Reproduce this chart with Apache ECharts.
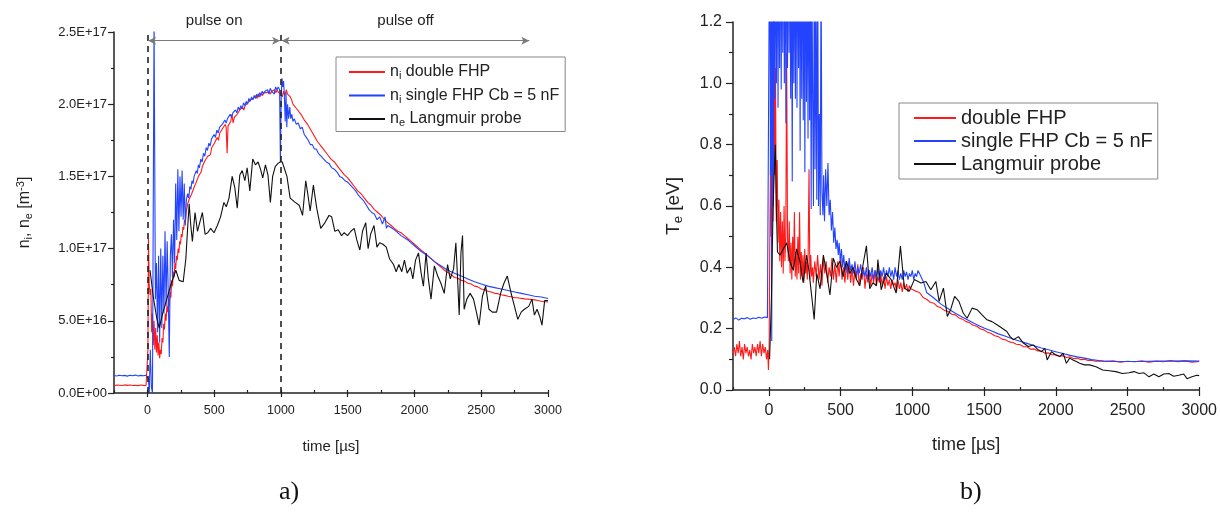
<!DOCTYPE html>
<html>
<head>
<meta charset="utf-8">
<script src="https://cdn.jsdelivr.net/npm/echarts@6/dist/echarts.min.js"></script>
<style>
html,body{margin:0;padding:0;background:#fff;}
#c{width:1220px;height:518px;}
</style>
</head>
<body>
<div id="c"></div>
<script>
// ---------- tick values ----------
const timeMajorTicks = [0, 500, 1000, 1500, 2000, 2500, 3000];
const pulseMarks = [0, 1000];          // µs, dashed lines
const pulseOnSpan = [6, 994];          // µs
const pulseOffSpan = [1006, 2860];     // µs
const arrowLevel = 2.44;               // 1e17 m^-3

// ---------- panel a) densities, units of 1e17 m^-3 : [time µs, value] ----------
const niDoubleFHP = [[-250,0.05],[-240,0.046],[-230,0.055],[-220,0.047],[-210,0.054],[-200,0.045],[-190,0.052],[-180,0.048],[-170,0.056],[-160,0.046],[-150,0.053],[-140,0.047],[-130,0.055],[-120,0.044],[-110,0.052],[-100,0.047],[-90,0.054],[-80,0.045],[-70,0.051],[-60,0.046],[-50,0.055],[-40,0.047],[-30,0.053],[-20,0.045],[-10,0.052],[0,0.048],[4,0.3],[8,1.07],[14,0.75],[20,0.68],[26,0.72],[32,0.42],[38,0.55],[44,0.33],[50,0.5],[56,0.3],[62,0.45],[68,0.28],[74,0.4],[80,0.26],[86,0.35],[92,0.24],[98,0.3],[104,0.27],[110,0.38],[116,0.35],[122,0.48],[128,0.44],[134,0.55],[140,0.5],[146,0.6],[152,0.56],[158,0.65],[164,0.6],[170,0.7],[176,0.66],[182,0.78],[188,0.74],[194,0.84],[200,0.8],[206,0.9],[212,0.86],[218,0.95],[224,0.92],[230,1.0],[236,0.97],[242,1.05],[248,1.03],[254,1.1],[260,1.08],[266,1.15],[272,1.13],[278,1.2],[284,1.18],[292,1.26],[302,1.31],[312,1.34],[322,1.33],[332,1.38],[342,1.39],[352,1.43],[362,1.45],[372,1.46],[382,1.5],[392,1.51],[402,1.53],[412,1.57],[422,1.57],[432,1.61],[442,1.6],[452,1.64],[462,1.65],[472,1.65],[482,1.7],[492,1.69],[502,1.73],[512,1.72],[522,1.77],[532,1.75],[542,1.8],[552,1.79],[562,1.83],[572,1.83],[582,1.86],[590,1.84],[597,1.66],[604,1.85],[614,1.86],[624,1.88],[633,1.93],[642,1.87],[652,1.91],[662,1.91],[672,1.93],[682,1.93],[692,1.96],[702,1.95],[712,1.98],[722,1.96],[732,1.99],[742,1.99],[752,2.01],[762,2.0],[772,2.03],[782,2.02],[792,2.04],[802,2.03],[812,2.06],[822,2.04],[832,2.07],[842,2.05],[852,2.08],[862,2.06],[872,2.08],[882,2.07],[892,2.08],[902,2.07],[912,2.09],[922,2.07],[932,2.09],[942,2.08],[952,2.1],[962,2.08],[972,2.1],[982,2.08],[992,2.09],[1000,2.07],[1010,2.05],[1020,2.09],[1030,2.06],[1040,2.1],[1050,2.07],[1060,2.08],[1070,2.05],[1080,2.03],[1090,2.0],[1100,1.99],[1125,1.96],[1150,1.93],[1175,1.89],[1200,1.86],[1225,1.82],[1250,1.78],[1275,1.74],[1300,1.71],[1325,1.68],[1350,1.65],[1375,1.62],[1400,1.6],[1425,1.57],[1450,1.54],[1475,1.51],[1500,1.49],[1525,1.46],[1550,1.43],[1575,1.4],[1600,1.38],[1625,1.35],[1650,1.32],[1675,1.3],[1700,1.27],[1725,1.25],[1750,1.23],[1775,1.2],[1800,1.18],[1825,1.16],[1850,1.14],[1875,1.12],[1900,1.11],[1925,1.09],[1950,1.07],[1975,1.05],[2000,1.03],[2025,1.01],[2050,0.99],[2075,0.97],[2100,0.95],[2125,0.93],[2150,0.91],[2175,0.89],[2200,0.87],[2225,0.85],[2250,0.835],[2275,0.82],[2300,0.8],[2325,0.795],[2350,0.78],[2375,0.775],[2400,0.76],[2425,0.755],[2450,0.74],[2475,0.735],[2500,0.72],[2525,0.715],[2550,0.705],[2575,0.7],[2600,0.69],[2625,0.688],[2650,0.68],[2675,0.676],[2700,0.67],[2725,0.667],[2750,0.66],[2775,0.66],[2800,0.655],[2825,0.652],[2850,0.65],[2875,0.648],[2900,0.645],[2925,0.64],[2950,0.635],[2975,0.632],[3000,0.63]];

const niSingleFHP = [[-250,0.121],[-230,0.118],[-210,0.123],[-190,0.119],[-170,0.122],[-150,0.117],[-130,0.123],[-110,0.12],[-90,0.124],[-70,0.118],[-50,0.122],[-30,0.119],[-10,0.123],[0,0.12],[8,0.1],[14,0.0],[22,0.3],[30,0.04],[38,0.0],[46,0.0],[50,2.6],[56,2.6],[60,0.65],[68,0.9],[76,0.42],[84,0.95],[92,0.35],[100,1.0],[108,0.45],[116,0.95],[124,0.55],[132,1.12],[140,0.6],[148,1.05],[156,0.7],[164,0.25],[172,0.95],[180,1.1],[188,0.8],[196,1.2],[204,0.9],[212,1.45],[220,1.06],[228,1.55],[236,1.12],[244,1.5],[252,1.22],[260,1.54],[268,1.2],[276,1.45],[284,1.16],[292,1.34],[302,1.38],[310,1.35],[318,1.43],[326,1.41],[334,1.47],[342,1.45],[350,1.5],[358,1.49],[366,1.54],[374,1.52],[382,1.58],[390,1.56],[400,1.62],[410,1.6],[420,1.66],[430,1.64],[440,1.7],[450,1.68],[460,1.73],[470,1.71],[480,1.76],[490,1.75],[500,1.79],[510,1.77],[520,1.82],[530,1.8],[540,1.84],[550,1.83],[560,1.86],[570,1.85],[580,1.89],[590,1.87],[600,1.9],[610,1.89],[620,1.93],[630,1.91],[640,1.94],[650,1.93],[660,1.96],[670,1.94],[680,1.98],[690,1.96],[700,1.99],[710,1.97],[720,2.01],[730,1.99],[740,2.02],[750,2.0],[760,2.04],[770,2.02],[780,2.05],[790,2.03],[800,2.06],[810,2.04],[820,2.07],[830,2.05],[840,2.08],[850,2.06],[860,2.09],[870,2.07],[880,2.09],[890,2.08],[900,2.1],[910,2.07],[920,2.11],[930,2.09],[940,2.1],[950,2.07],[960,2.12],[970,2.1],[980,2.12],[990,2.1],[996,1.6],[1002,2.05],[1008,2.18],[1014,2.12],[1020,2.16],[1026,2.05],[1032,1.88],[1038,2.08],[1044,1.84],[1050,2.0],[1058,1.9],[1066,1.98],[1074,1.9],[1082,1.93],[1090,1.88],[1100,1.9],[1115,1.86],[1130,1.87],[1145,1.83],[1160,1.84],[1175,1.79],[1190,1.77],[1205,1.75],[1220,1.72],[1235,1.72],[1250,1.69],[1265,1.69],[1280,1.66],[1300,1.64],[1320,1.62],[1340,1.6],[1360,1.59],[1380,1.56],[1400,1.55],[1420,1.53],[1440,1.5],[1460,1.49],[1480,1.47],[1500,1.46],[1520,1.44],[1540,1.42],[1560,1.4],[1580,1.37],[1600,1.35],[1620,1.33],[1640,1.3],[1660,1.27],[1680,1.25],[1700,1.24],[1720,1.2],[1740,1.22],[1760,1.17],[1780,1.22],[1790,1.14],[1800,1.16],[1850,1.13],[1900,1.09],[1950,1.06],[2000,1.02],[2050,0.98],[2100,0.95],[2150,0.91],[2200,0.88],[2250,0.85],[2300,0.83],[2350,0.81],[2400,0.79],[2450,0.77],[2500,0.755],[2550,0.74],[2600,0.73],[2650,0.72],[2700,0.71],[2750,0.7],[2800,0.69],[2850,0.68],[2900,0.67],[2950,0.665],[3000,0.655]];

const neLangmuir = [[20,0.85],[45,0.66],[70,0.52],[89,0.45],[114,0.55],[139,0.63],[176,0.75],[213,0.85],[238,0.78],[268,0.77],[288,0.93],[300,1.12],[313,1.31],[325,1.16],[337,1.05],[357,1.25],[375,1.12],[392,1.18],[412,1.25],[432,1.1],[452,1.11],[474,1.14],[499,1.11],[524,1.16],[548,1.22],[573,1.32],[591,1.29],[611,1.35],[635,1.5],[655,1.42],[673,1.28],[692,1.51],[710,1.54],[730,1.47],[747,1.56],[767,1.4],[789,1.62],[809,1.58],[829,1.6],[847,1.55],[864,1.49],[884,1.58],[903,1.51],[921,1.32],[938,1.5],[958,1.57],[978,1.59],[995,1.6],[1010,1.6],[1020,1.59],[1045,1.5],[1069,1.35],[1107,1.32],[1137,1.3],[1162,1.23],[1186,1.47],[1201,1.38],[1219,1.26],[1243,1.44],[1268,1.28],[1298,1.14],[1330,1.18],[1360,1.23],[1380,1.22],[1404,1.12],[1429,1.13],[1454,1.09],[1474,1.11],[1499,1.09],[1524,1.12],[1549,1.14],[1568,1.06],[1591,0.99],[1611,1.12],[1635,1.18],[1653,1.0],[1672,1.1],[1697,1.16],[1719,1.01],[1739,1.04],[1764,1.03],[1789,1.01],[1813,0.93],[1843,0.89],[1863,0.84],[1883,0.89],[1905,0.84],[1925,0.92],[1945,0.83],[1970,0.87],[1988,0.79],[2008,0.92],[2030,0.97],[2050,0.83],[2067,0.74],[2087,0.97],[2104,0.79],[2124,0.65],[2149,0.88],[2174,0.81],[2198,0.76],[2223,0.69],[2248,0.89],[2268,0.79],[2293,0.86],[2310,1.04],[2323,0.79],[2335,0.54],[2348,0.97],[2360,1.09],[2372,0.58],[2392,0.65],[2417,0.69],[2442,0.65],[2464,0.56],[2484,0.47],[2509,0.67],[2533,0.74],[2558,0.58],[2583,0.56],[2615,0.56],[2645,0.69],[2670,0.76],[2695,0.81],[2724,0.69],[2749,0.6],[2774,0.51],[2799,0.56],[2823,0.58],[2856,0.6],[2880,0.65],[2898,0.54],[2918,0.58],[2938,0.53],[2955,0.47],[2975,0.64],[3000,0.64]];

// ---------- panel b) electron temperature, eV : [time µs, value] ----------
const teDoubleFHP = [[-250,0.12],[-241,0.14],[-232,0.11],[-223,0.15],[-214,0.12],[-205,0.16],[-196,0.11],[-187,0.14],[-178,0.1],[-169,0.15],[-160,0.12],[-151,0.14],[-142,0.11],[-133,0.13],[-124,0.1],[-115,0.15],[-106,0.12],[-97,0.14],[-88,0.11],[-79,0.15],[-70,0.12],[-61,0.16],[-52,0.11],[-43,0.15],[-34,0.12],[-25,0.14],[-16,0.1],[-8,0.13],[-3,0.065],[2,0.14],[6,0.45],[12,0.76],[16,0.5],[22,0.9],[28,0.55],[34,1.4],[40,0.7],[46,1.05],[52,0.55],[58,0.75],[64,0.48],[70,0.62],[76,0.42],[82,0.58],[88,0.4],[94,0.55],[100,0.38],[106,0.6],[112,0.42],[118,0.5],[124,1.1],[130,0.5],[136,0.42],[142,0.55],[148,0.38],[154,0.48],[160,0.36],[166,0.5],[172,0.4],[178,0.58],[184,0.37],[190,0.45],[196,0.36],[202,0.5],[208,0.38],[214,0.58],[220,0.36],[226,0.45],[232,0.37],[238,0.44],[244,0.35],[250,0.46],[256,0.38],[262,0.42],[268,0.36],[274,0.45],[280,0.72],[286,0.36],[292,0.44],[298,0.37],[305,0.4],[310,0.35],[320,0.42],[330,0.37],[340,0.44],[350,0.36],[360,0.41],[370,0.34],[380,0.43],[390,0.38],[400,0.42],[410,0.35],[420,0.4],[430,0.37],[440,0.43],[450,0.36],[460,0.41],[470,0.35],[480,0.42],[490,0.37],[500,0.44],[510,0.36],[520,0.4],[530,0.35],[540,0.41],[550,0.36],[560,0.42],[570,0.35],[580,0.4],[590,0.34],[600,0.39],[610,0.36],[620,0.41],[630,0.34],[640,0.38],[650,0.36],[660,0.4],[670,0.33],[680,0.38],[690,0.35],[700,0.39],[710,0.34],[720,0.38],[730,0.35],[740,0.39],[750,0.34],[760,0.37],[770,0.35],[780,0.38],[790,0.34],[800,0.37],[810,0.33],[820,0.37],[830,0.34],[840,0.36],[850,0.33],[860,0.36],[870,0.34],[880,0.35],[890,0.32],[900,0.36],[910,0.33],[920,0.35],[930,0.32],[940,0.35],[950,0.33],[960,0.345],[970,0.32],[980,0.34],[990,0.33],[1000,0.335],[1025,0.322],[1050,0.318],[1075,0.302],[1100,0.296],[1125,0.286],[1150,0.283],[1175,0.272],[1200,0.268],[1225,0.259],[1250,0.256],[1275,0.247],[1300,0.245],[1325,0.235],[1350,0.231],[1375,0.223],[1400,0.219],[1425,0.211],[1450,0.208],[1475,0.199],[1500,0.196],[1525,0.188],[1550,0.184],[1575,0.177],[1600,0.174],[1625,0.166],[1650,0.164],[1675,0.157],[1700,0.155],[1725,0.149],[1750,0.148],[1775,0.141],[1800,0.141],[1825,0.133],[1850,0.134],[1875,0.127],[1900,0.127],[1925,0.12],[1950,0.121],[1975,0.115],[2000,0.116],[2025,0.11],[2050,0.112],[2075,0.106],[2100,0.108],[2125,0.102],[2150,0.104],[2175,0.099],[2200,0.1],[2225,0.096],[2250,0.097],[2275,0.094],[2300,0.095],[2350,0.093],[2400,0.095],[2450,0.091],[2500,0.094],[2550,0.092],[2600,0.095],[2650,0.091],[2700,0.094],[2750,0.092],[2800,0.096],[2850,0.092],[2900,0.095],[2950,0.091],[3000,0.093]];

const teSingleFHP = [[-250,0.23],[-230,0.235],[-210,0.228],[-190,0.234],[-170,0.232],[-150,0.236],[-130,0.231],[-110,0.235],[-90,0.233],[-70,0.237],[-50,0.234],[-30,0.238],[-10,0.236],[0,0.24],[2,0.24],[6,1.6],[11,0.7],[15,1.7],[20,0.16],[26,1.6],[31,0.6],[36,1.7],[42,0.95],[47,1.6],[53,1.0],[58,1.7],[64,0.92],[69,1.6],[75,1.05],[80,1.7],[86,0.98],[91,1.6],[97,1.1],[102,1.7],[108,1.0],[113,1.6],[119,0.87],[124,1.7],[130,1.05],[135,1.6],[141,1.1],[146,1.7],[152,0.95],[157,1.6],[163,0.68],[168,1.7],[174,1.0],[179,1.6],[185,0.95],[190,1.7],[196,0.92],[201,1.6],[207,1.05],[212,1.7],[218,0.78],[223,1.6],[229,0.95],[234,1.7],[240,0.88],[245,1.6],[251,0.71],[256,1.7],[262,0.94],[267,1.5],[273,0.82],[278,1.6],[284,0.88],[289,1.5],[295,0.59],[300,1.4],[306,0.9],[311,0.6],[317,1.5],[322,0.72],[328,1.3],[334,0.62],[340,1.5],[346,0.6],[352,0.9],[358,0.57],[364,1.4],[370,0.65],[377,0.57],[382,0.7],[388,0.55],[396,0.72],[404,0.6],[412,0.74],[420,0.57],[428,0.62],[436,0.52],[444,0.58],[452,0.48],[460,0.53],[468,0.46],[476,0.49],[484,0.44],[490,0.48],[498,0.42],[506,0.46],[514,0.4],[522,0.44],[530,0.39],[540,0.42],[550,0.38],[560,0.43],[570,0.39],[580,0.41],[590,0.38],[600,0.42],[610,0.37],[620,0.4],[630,0.38],[640,0.41],[650,0.37],[660,0.39],[670,0.37],[680,0.4],[690,0.36],[700,0.39],[710,0.37],[720,0.4],[730,0.36],[740,0.39],[750,0.37],[760,0.4],[770,0.36],[780,0.39],[790,0.37],[800,0.4],[810,0.36],[820,0.39],[830,0.37],[840,0.4],[850,0.37],[860,0.39],[870,0.36],[880,0.4],[890,0.37],[900,0.39],[910,0.36],[920,0.38],[930,0.36],[940,0.39],[950,0.37],[960,0.385],[970,0.36],[980,0.38],[990,0.37],[1000,0.39],[1010,0.36],[1020,0.38],[1030,0.37],[1040,0.39],[1050,0.395],[1060,0.37],[1080,0.35],[1100,0.318],[1150,0.3],[1200,0.28],[1250,0.265],[1300,0.25],[1350,0.237],[1400,0.225],[1450,0.213],[1500,0.202],[1550,0.193],[1600,0.183],[1650,0.175],[1700,0.166],[1750,0.159],[1800,0.152],[1850,0.144],[1900,0.137],[1950,0.131],[2000,0.125],[2050,0.119],[2100,0.113],[2150,0.108],[2200,0.104],[2250,0.099],[2300,0.096],[2350,0.094],[2400,0.093],[2500,0.093],[2600,0.093],[2700,0.094],[2800,0.094],[2900,0.095],[3000,0.094]];

const teLangmuir = [[5,0.1],[12,0.098],[18,0.3],[23,0.44],[30,0.6],[38,0.72],[45,0.8],[52,0.6],[60,0.45],[78,0.44],[101,0.46],[124,0.48],[147,0.42],[170,0.39],[193,0.46],[216,0.42],[239,0.35],[263,0.44],[279,0.39],[300,0.3],[316,0.23],[334,0.38],[357,0.33],[380,0.44],[403,0.38],[426,0.31],[449,0.43],[472,0.4],[495,0.42],[518,0.37],[541,0.42],[564,0.38],[588,0.4],[611,0.36],[634,0.34],[657,0.41],[680,0.47],[703,0.33],[726,0.35],[749,0.34],[760,0.425],[783,0.327],[818,0.381],[853,0.36],[887,0.316],[917,0.469],[945,0.332],[979,0.322],[1014,0.36],[1060,0.349],[1095,0.354],[1129,0.327],[1164,0.354],[1187,0.289],[1217,0.332],[1244,0.24],[1267,0.262],[1295,0.305],[1325,0.289],[1355,0.251],[1382,0.234],[1417,0.267],[1452,0.262],[1486,0.245],[1521,0.229],[1555,0.223],[1590,0.213],[1624,0.202],[1659,0.191],[1682,0.174],[1705,0.164],[1740,0.174],[1774,0.153],[1809,0.142],[1843,0.147],[1878,0.131],[1901,0.125],[1924,0.136],[1940,0.098],[1970,0.125],[2000,0.114],[2028,0.109],[2051,0.12],[2074,0.087],[2097,0.104],[2120,0.098],[2143,0.093],[2166,0.087],[2200,0.082],[2235,0.082],[2281,0.076],[2327,0.065],[2373,0.063],[2419,0.06],[2465,0.054],[2511,0.056],[2546,0.06],[2580,0.054],[2615,0.056],[2650,0.043],[2684,0.052],[2719,0.043],[2753,0.052],[2788,0.054],[2822,0.045],[2857,0.048],[2892,0.052],[2915,0.037],[2949,0.043],[2984,0.048],[3000,0.047]];

// ---------- chart ----------
const FONT = 'Liberation Sans, Arial, sans-serif';
const RED = '#ff1a1a', BLUE = '#2343ff', BLACK = '#111111', AX = '#222222';

const chart = echarts.init(document.getElementById('c'), null, {renderer: 'canvas'});

function sciLabel(v) {
  if (v === 0) return '0.0E+00';
  return (v * 1e17).toExponential(1).toUpperCase();
}
function timeLabel(v) { return (v % 500 === 0) ? String(v) : ''; }

function mainX(grid, fs, margin, gap, nfs) {
  return {
    type: 'value', gridIndex: grid, min: -250, max: 3000, interval: 250,
    axisLine: {show: true, onZero: false, lineStyle: {color: AX, width: 1.5}},
    axisTick: {show: true, inside: true, length: 3, lineStyle: {color: AX, width: 1.2}},
    axisLabel: {formatter: timeLabel, fontSize: fs, color: AX, margin: margin, fontFamily: FONT},
    splitLine: {show: false},
    name: 'time [µs]', nameLocation: 'middle', nameGap: gap,
    nameTextStyle: {fontSize: nfs, color: AX, fontFamily: FONT}
  };
}
function overlayX(grid, len) {
  return {
    type: 'value', gridIndex: grid, min: -250, max: 3000, position: 'bottom',
    axisLine: {show: false},
    axisTick: {show: true, inside: false, length: len, customValues: timeMajorTicks, lineStyle: {color: AX, width: 1.2}},
    axisLabel: {show: false}, splitLine: {show: false}
  };
}

const subRich = (fs) => ({
  t: {fontSize: fs, color: AX, fontFamily: FONT},
  s: {fontSize: Math.round(fs * 0.68), color: AX, fontFamily: FONT, padding: [Math.round(fs * 0.5), 0, 0, 0]},
  p: {fontSize: Math.round(fs * 0.68), color: AX, fontFamily: FONT, padding: [0, 0, Math.round(fs * 0.5), 0]}
});

const leftNames = ['ni double FHP', 'ni single FHP Cb = 5 nF', 'ne Langmuir probe'];
const rightNames = ['double FHP', 'single FHP Cb = 5 nF', 'Langmuir probe'];

function lineSeries(name, data, color, xi, yi, extra) {
  return Object.assign({
    name: name, type: 'line', data: data, xAxisIndex: xi, yAxisIndex: yi,
    symbol: 'none', showSymbol: false, clip: true, animation: false,
    lineStyle: {color: color, width: 1.1}, itemStyle: {color: color}
  }, extra || {});
}

const arrowLabel = (txt) => ({show: true, position: 'middle', formatter: txt, distance: 12, fontSize: 15, color: '#222', fontFamily: FONT});
const markLines = {
  silent: true, animation: false,
  symbol: ['none', 'none'],
  lineStyle: {color: '#222', type: [6, 5], width: 1.6},
  label: {show: false},
  data: [
    {xAxis: pulseMarks[0]},
    {xAxis: pulseMarks[1]},
    [
      {coord: [pulseOnSpan[0], arrowLevel], symbol: 'arrow', symbolSize: [6, 8],
       lineStyle: {color: '#7a7a7a', type: 'solid', width: 1.2}, label: arrowLabel('pulse on')},
      {coord: [pulseOnSpan[1], arrowLevel], symbol: 'arrow', symbolSize: [6, 8]}
    ],
    [
      {coord: [pulseOffSpan[0], arrowLevel], symbol: 'arrow', symbolSize: [6, 8],
       lineStyle: {color: '#7a7a7a', type: 'solid', width: 1.2}, label: arrowLabel('pulse off')},
      {coord: [pulseOffSpan[1], arrowLevel], symbol: 'arrow', symbolSize: [6, 8]}
    ]
  ]
};

const option = {
  backgroundColor: '#fff',
  animation: false,
  grid: [
    {left: 114, top: 32, width: 434, height: 361},
    {left: 733, top: 22, width: 469, height: 368}
  ],
  xAxis: [
    mainX(0, 12.5, 11, 46, 15),
    overlayX(0, 4),
    mainX(1, 16, 13, 46, 18),
    overlayX(1, 6)
  ],
  yAxis: [
    {
      type: 'value', gridIndex: 0, min: 0, max: 2.5, interval: 0.5,
      axisLine: {show: true, onZero: false, lineStyle: {color: AX, width: 1.5}},
      axisTick: {show: true, inside: false, length: 6, lineStyle: {color: AX, width: 1.2}},
      minorTick: {show: true, splitNumber: 2, length: 3, lineStyle: {color: AX, width: 1.2}},
      axisLabel: {formatter: sciLabel, fontSize: 13, color: AX, margin: 7, fontFamily: FONT},
      splitLine: {show: false},
      name: '{t|n}{s|i}{t|, n}{s|e}{t| [m}{p|-3}{t|]}', nameLocation: 'middle', nameRotate: 90, nameGap: 80,
      nameTextStyle: {fontSize: 16, color: AX, fontFamily: FONT, rich: subRich(16)}
    },
    {
      type: 'value', gridIndex: 1, min: 0, max: 1.2, interval: 0.2,
      axisLine: {show: true, onZero: false, lineStyle: {color: AX, width: 1.5}},
      axisTick: {show: true, inside: false, length: 7, lineStyle: {color: AX, width: 1.2}},
      minorTick: {show: true, splitNumber: 2, length: 4, lineStyle: {color: AX, width: 1.2}},
      axisLabel: {formatter: v => v.toFixed(1), fontSize: 16, color: AX, margin: 11, fontFamily: FONT},
      splitLine: {show: false},
      name: '{t|T}{s|e}{t| [eV]}', nameLocation: 'middle', nameRotate: 90, nameGap: 48,
      nameTextStyle: {fontSize: 19, color: AX, fontFamily: FONT, rich: subRich(19)}
    }
  ],
  legend: [
    {
      data: leftNames, left: 336, top: 57, orient: 'vertical', icon: 'rect',
      backgroundColor: '#fff', borderColor: '#888', borderWidth: 1, padding: [7, 6, 3, 13],
      itemWidth: 36, itemHeight: 2, itemGap: 6, selectedMode: false,
      formatter: n => '{t|' + n.slice(0, 1) + '}{s|' + n.slice(1, 2) + '}{t|' + n.slice(2) + '}',
      textStyle: {fontSize: 16, color: AX, fontFamily: FONT, rich: subRich(16)}
    },
    {
      data: rightNames, left: 899, top: 103, orient: 'vertical', icon: 'rect',
      backgroundColor: '#fff', borderColor: '#888', borderWidth: 1, padding: [5, 5, 5, 15],
      itemWidth: 42, itemHeight: 2, itemGap: 3, selectedMode: false,
      textStyle: {fontSize: 20, color: AX, fontFamily: FONT, lineHeight: 20}
    }
  ],
  series: [
    lineSeries(leftNames[0], niDoubleFHP, RED, 0, 0),
    lineSeries(leftNames[1], niSingleFHP, BLUE, 0, 0),
    lineSeries(leftNames[2], neLangmuir, BLACK, 0, 0, {markLine: markLines}),
    lineSeries(rightNames[0], teDoubleFHP, RED, 2, 1),
    lineSeries(rightNames[1], teSingleFHP, BLUE, 2, 1),
    lineSeries(rightNames[2], teLangmuir, BLACK, 2, 1)
  ],
  graphic: [
    {type: 'text', left: 279, top: 479, style: {text: 'a)', fontSize: 26, fill: '#111', fontFamily: 'Liberation Serif, Times New Roman, serif'}},
    {type: 'text', left: 960, top: 479, style: {text: 'b)', fontSize: 26, fill: '#111', fontFamily: 'Liberation Serif, Times New Roman, serif'}}
  ]
};

chart.setOption(option);
</script>
</body>
</html>
